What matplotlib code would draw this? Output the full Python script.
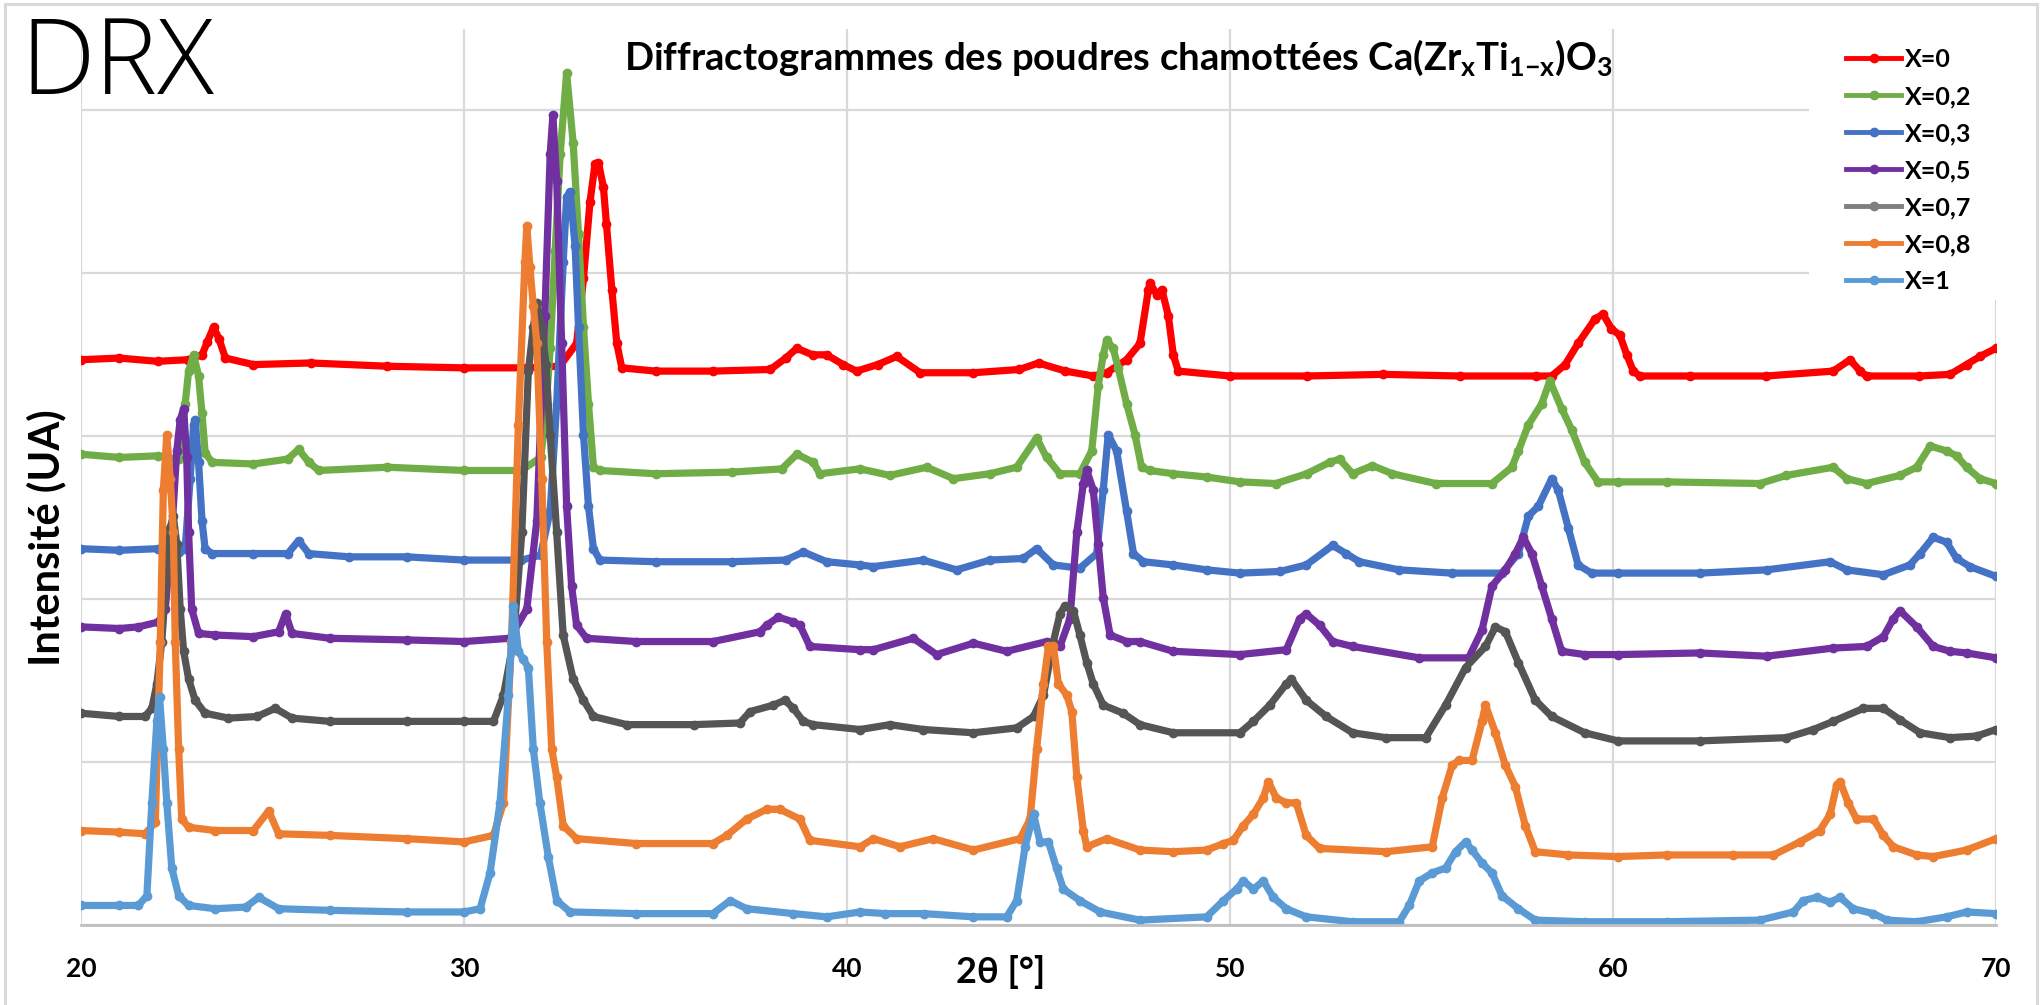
import matplotlib
matplotlib.use("Agg")
import matplotlib.pyplot as plt
from matplotlib.patches import Rectangle
from matplotlib.lines import Line2D

plt.rcParams['font.family'] = ['Lato', 'DejaVu Sans']
plt.rcParams['mathtext.fontset'] = 'custom'
plt.rcParams['mathtext.rm'] = 'Lato:bold'
plt.rcParams['mathtext.it'] = 'Lato:bold'
plt.rcParams['mathtext.bf'] = 'Lato:bold'

# ---------------- data (2theta in degrees, intensity in gridline units, offset as in the figure) -------------
labels = ["X=0", "X=0,2", "X=0,3", "X=0,5", "X=0,7", "X=0,8", "X=1"]
colors = ["#FF0000", "#70AD47", "#4472C4", "#7030A0", "#555555", "#ED7D31", "#5B9BD5"]
legend_colors = ["#FF0000", "#70AD47", "#4472C4", "#7030A0", "#7F7F7F", "#ED7D31", "#5B9BD5"]

x0 = [20.0, 21.0, 22.0, 22.8, 23.16, 23.3, 23.46, 23.6, 23.77, 24.5, 26.0, 28.0, 30.0, 31.5, 32.5, 32.94,
      33.12, 33.29, 33.42, 33.51, 33.64, 33.72, 33.86, 33.99, 34.12, 35.0, 36.5, 38.0, 38.4, 38.69, 39.1,
      39.47, 39.9, 40.25, 40.8, 41.3, 41.91, 43.3, 44.5, 45.0, 45.7, 46.43, 46.78, 47.3, 47.65, 47.87, 47.91,
      48.09, 48.22, 48.39, 48.52, 48.65, 50.0, 52.0, 54.0, 56.0, 58.0, 58.4, 58.75, 59.09, 59.53, 59.74,
      59.96, 60.18, 60.36, 60.53, 60.7, 62.0, 64.0, 65.75, 66.19, 66.45, 66.62, 68.0, 68.8, 69.23, 69.58, 70.0]
y0 = [3.47, 3.48, 3.46, 3.47, 3.50, 3.58, 3.67, 3.60, 3.48, 3.44, 3.45, 3.43, 3.42, 3.42, 3.43, 3.57,
      3.97, 4.44, 4.67, 4.68, 4.53, 4.30, 3.90, 3.57, 3.42, 3.40, 3.40, 3.41, 3.48, 3.54, 3.50,
      3.50, 3.44, 3.40, 3.44, 3.49, 3.39, 3.39, 3.41, 3.45, 3.40, 3.37, 3.39, 3.47, 3.57, 3.90, 3.94,
      3.87, 3.90, 3.74, 3.50, 3.40, 3.37, 3.37, 3.38, 3.37, 3.37, 3.37, 3.44, 3.57, 3.72, 3.75,
      3.66, 3.62, 3.50, 3.40, 3.37, 3.37, 3.37, 3.40, 3.47, 3.40, 3.37, 3.37, 3.38, 3.44, 3.49, 3.54]

x02 = [20.0, 21.0, 22.0, 22.55, 22.72, 22.81, 22.94, 23.07, 23.16, 23.24, 23.42, 24.5, 25.4, 25.68, 25.95,
       26.21, 28.0, 30.0, 31.5, 32.0, 32.11, 32.25, 32.38, 32.51, 32.68, 32.85, 32.99, 33.12, 33.25, 33.38,
       33.55, 35.0, 37.0, 38.3, 38.69, 39.12, 39.29, 40.34, 41.12, 42.08, 42.78, 43.73, 44.43, 44.95, 45.21,
       45.56, 46.08, 46.39, 46.56, 46.69, 46.78, 46.95, 47.08, 47.30, 47.52, 47.69, 47.91, 48.52, 49.39,
       50.26, 51.2, 52.0, 52.6, 52.86, 53.2, 53.72, 54.24, 55.37, 56.84, 57.36, 57.53, 57.79, 58.14, 58.35,
       58.66, 58.92, 59.26, 59.61, 60.13, 61.4, 63.84, 64.53, 65.75, 66.10, 66.62, 67.49, 67.93, 68.28,
       68.71, 68.97, 69.23, 69.58, 70.0]
y02 = [2.89, 2.87, 2.88, 2.86, 3.20, 3.40, 3.50, 3.37, 3.14, 2.90, 2.84, 2.83, 2.86, 2.92, 2.84,
       2.79, 2.81, 2.79, 2.79, 2.87, 3.07, 3.54, 4.14, 4.73, 5.23, 4.80, 4.24, 3.67, 3.20, 2.81,
       2.79, 2.77, 2.78, 2.80, 2.89, 2.84, 2.77, 2.80, 2.76, 2.81, 2.74, 2.77, 2.81, 2.99, 2.87,
       2.77, 2.77, 2.91, 3.31, 3.50, 3.59, 3.54, 3.42, 3.20, 3.01, 2.81, 2.79, 2.77, 2.75,
       2.72, 2.71, 2.77, 2.84, 2.86, 2.77, 2.82, 2.77, 2.71, 2.71, 2.81, 2.91, 3.07, 3.20, 3.34,
       3.17, 3.04, 2.84, 2.72, 2.72, 2.72, 2.71, 2.76, 2.81, 2.74, 2.71, 2.76, 2.81, 2.94,
       2.91, 2.88, 2.81, 2.74, 2.71]

x03 = [20.0, 21.0, 22.0, 22.55, 22.72, 22.85, 22.94, 22.98, 23.07, 23.16, 23.24, 23.42, 24.5, 25.4, 25.68,
       25.95, 27.0, 28.5, 30.0, 31.5, 32.0, 32.25, 32.42, 32.59, 32.68, 32.77, 32.90, 32.99, 33.12, 33.25,
       33.38, 33.55, 35.0, 37.0, 38.4, 38.86, 39.47, 40.34, 40.69, 41.99, 42.86, 43.73, 44.60, 44.95, 45.39,
       46.08, 46.52, 46.69, 46.82, 47.04, 47.30, 47.48, 47.74, 48.52, 49.39, 50.26, 51.3, 51.99, 52.68,
       53.03, 53.38, 54.42, 55.8, 57.10, 57.53, 57.79, 58.05, 58.40, 58.57, 58.83, 59.09, 59.44, 60.13,
       62.27, 64.01, 65.67, 66.10, 67.06, 67.75, 68.02, 68.36, 68.71, 68.97, 69.32, 70.0]
y03 = [2.31, 2.30, 2.31, 2.29, 2.31, 2.74, 3.07, 3.10, 2.84, 2.48, 2.31, 2.28, 2.28, 2.28, 2.36,
       2.28, 2.26, 2.26, 2.24, 2.24, 2.27, 2.54, 3.20, 4.07, 4.47, 4.50, 4.17, 3.67, 3.01, 2.57,
       2.31, 2.24, 2.23, 2.23, 2.24, 2.29, 2.23, 2.21, 2.20, 2.24, 2.18, 2.24, 2.25, 2.31, 2.21,
       2.19, 2.28, 2.67, 3.01, 2.91, 2.54, 2.28, 2.23, 2.21, 2.18, 2.16, 2.17, 2.21, 2.33,
       2.28, 2.23, 2.18, 2.16, 2.16, 2.28, 2.51, 2.57, 2.74, 2.67, 2.44, 2.21, 2.16, 2.16,
       2.16, 2.18, 2.23, 2.18, 2.15, 2.21, 2.28, 2.38, 2.35, 2.25, 2.20, 2.14]

x05 = [20.0, 21.0, 21.5, 22.02, 22.20, 22.37, 22.50, 22.59, 22.68, 22.76, 22.81, 22.89, 23.07, 23.5, 24.5,
       25.16, 25.34, 25.51, 26.5, 28.5, 30.0, 31.2, 31.64, 31.90, 32.11, 32.25, 32.32, 32.42, 32.55, 32.68,
       32.81, 32.94, 33.20, 34.5, 36.5, 37.73, 37.9, 38.21, 38.60, 38.77, 39.03, 40.34, 40.69, 41.73, 42.34,
       43.30, 44.17, 45.21, 45.56, 45.82, 46.00, 46.17, 46.26, 46.43, 46.56, 46.69, 46.87, 47.30, 47.65,
       48.52, 50.26, 51.47, 51.82, 51.99, 52.34, 52.68, 53.20, 54.94, 56.23, 56.58, 56.84, 57.19, 57.45,
       57.66, 57.88, 58.14, 58.40, 58.66, 59.26, 60.13, 62.27, 64.01, 65.75, 66.62, 67.06, 67.32, 67.49,
       67.93, 68.36, 68.80, 69.23, 70.0]
y05 = [1.83, 1.82, 1.83, 1.86, 1.94, 2.41, 2.91, 3.10, 3.17, 2.87, 2.41, 1.94, 1.79, 1.78, 1.77,
       1.80, 1.91, 1.79, 1.76, 1.75, 1.74, 1.76, 1.94, 2.48, 3.74, 4.73, 4.97, 4.57, 3.57, 2.57,
       2.08, 1.84, 1.76, 1.74, 1.74, 1.80, 1.84, 1.89, 1.86, 1.84, 1.71, 1.69, 1.69, 1.76, 1.66,
       1.73, 1.68, 1.74, 1.71, 1.88, 2.41, 2.71, 2.79, 2.67, 2.34, 2.01, 1.78, 1.74, 1.74,
       1.68, 1.66, 1.69, 1.88, 1.91, 1.84, 1.74, 1.71, 1.64, 1.64, 1.81, 2.08, 2.18, 2.28,
       2.38, 2.28, 2.08, 1.88, 1.68, 1.66, 1.66, 1.67, 1.65, 1.70, 1.71, 1.77, 1.88, 1.93,
       1.83, 1.71, 1.68, 1.67, 1.64]

x07 = [20.0, 21.0, 21.67, 21.85, 21.98, 22.11, 22.24, 22.33, 22.41, 22.50, 22.59, 22.68, 22.81, 22.98, 23.24,
       23.85, 24.6, 25.07, 25.51, 26.5, 28.5, 30.0, 30.77, 31.03, 31.29, 31.51, 31.68, 31.81, 31.90, 32.03,
       32.14, 32.25, 32.42, 32.59, 32.85, 33.12, 33.38, 34.25, 36.0, 37.2, 37.47, 38.08, 38.38, 38.60, 38.86,
       39.12, 40.34, 41.12, 41.99, 43.30, 44.43, 44.87, 45.13, 45.39, 45.56, 45.69, 45.91, 46.08, 46.26,
       46.43, 46.69, 47.21, 47.65, 48.52, 50.26, 50.61, 51.04, 51.47, 51.60, 51.99, 52.51, 53.20, 54.07,
       55.11, 55.63, 56.15, 56.67, 56.93, 57.19, 57.53, 57.97, 58.40, 59.26, 60.13, 62.27, 64.53, 65.23,
       65.75, 66.54, 67.06, 67.49, 68.02, 68.80, 69.50, 70.0]
y07 = [1.30, 1.28, 1.28, 1.33, 1.48, 1.74, 2.18, 2.44, 2.51, 2.34, 1.94, 1.68, 1.51, 1.38, 1.30,
       1.27, 1.28, 1.33, 1.27, 1.25, 1.25, 1.25, 1.25, 1.41, 1.74, 2.41, 3.40, 3.67, 3.82, 3.67,
       3.44, 3.01, 2.41, 1.78, 1.51, 1.38, 1.28, 1.23, 1.23, 1.24, 1.31, 1.35, 1.38, 1.33, 1.25,
       1.23, 1.20, 1.23, 1.20, 1.18, 1.21, 1.28, 1.41, 1.74, 1.91, 1.96, 1.93, 1.78, 1.61,
       1.48, 1.35, 1.30, 1.23, 1.18, 1.18, 1.25, 1.35, 1.48, 1.51, 1.38, 1.28, 1.18, 1.15,
       1.15, 1.35, 1.58, 1.71, 1.83, 1.80, 1.61, 1.38, 1.28, 1.18, 1.13, 1.13, 1.15, 1.20,
       1.25, 1.33, 1.33, 1.26, 1.18, 1.15, 1.16, 1.20]

x08 = [20.0, 21.0, 21.67, 21.94, 22.07, 22.15, 22.24, 22.33, 22.41, 22.46, 22.55, 22.63, 22.81, 23.5, 24.5,
       24.9, 25.16, 26.5, 28.5, 30.0, 30.77, 31.03, 31.24, 31.42, 31.59, 31.64, 31.72, 31.81, 31.90, 32.03,
       32.16, 32.29, 32.42, 32.59, 32.94, 34.5, 36.5, 36.86, 37.38, 37.9, 38.25, 38.77, 39.03, 40.34, 40.69,
       41.38, 42.25, 43.30, 44.52, 44.78, 44.95, 45.13, 45.26, 45.39, 45.52, 45.74, 45.87, 46.00, 46.17,
       46.26, 46.78, 47.65, 48.52, 49.39, 49.83, 50.09, 50.35, 50.61, 50.87, 51.0, 51.21, 51.47, 51.73,
       51.99, 52.34, 54.07, 55.28, 55.54, 55.80, 55.97, 56.32, 56.58, 56.67, 56.93, 57.19, 57.45, 57.71,
       57.97, 58.83, 60.13, 61.4, 63.14, 64.19, 64.88, 65.40, 65.67, 65.84, 65.93, 66.14, 66.36, 66.80,
       67.06, 67.32, 67.93, 68.36, 69.23, 70.0]
y08 = [0.58, 0.57, 0.56, 0.63, 1.74, 2.67, 3.01, 2.74, 2.41, 1.74, 1.08, 0.65, 0.60, 0.58, 0.58,
       0.70, 0.56, 0.55, 0.53, 0.51, 0.55, 0.75, 1.74, 3.07, 4.07, 4.29, 4.04, 3.80, 3.57, 2.74,
       1.74, 1.08, 0.91, 0.61, 0.53, 0.50, 0.50, 0.55, 0.65, 0.71, 0.71, 0.65, 0.52, 0.48, 0.53,
       0.48, 0.53, 0.46, 0.53, 0.65, 1.08, 1.48, 1.71, 1.71, 1.48, 1.41, 1.31, 0.91, 0.58,
       0.48, 0.53, 0.46, 0.45, 0.46, 0.50, 0.52, 0.61, 0.68, 0.78, 0.88, 0.78, 0.75, 0.75,
       0.55, 0.47, 0.45, 0.48, 0.78, 0.98, 1.01, 1.01, 1.25, 1.35, 1.18, 0.98, 0.85, 0.61,
       0.45, 0.43, 0.42, 0.43, 0.43, 0.43, 0.51, 0.58, 0.68, 0.86, 0.88, 0.75, 0.65, 0.65,
       0.55, 0.48, 0.43, 0.42, 0.46, 0.53]

x1 = [20.0, 21.0, 21.50, 21.72, 21.85, 21.98, 22.05, 22.15, 22.24, 22.37, 22.55, 22.81, 23.5, 24.3, 24.64,
      25.16, 26.5, 28.5, 30.0, 30.42, 30.68, 30.94, 31.16, 31.29, 31.42, 31.55, 31.68, 31.81, 31.98, 32.20,
      32.42, 32.77, 34.5, 36.5, 36.95, 37.38, 38.60, 39.47, 40.34, 41.0, 42.0, 43.30, 44.17, 44.43, 44.65,
      44.87, 45.04, 45.26, 45.47, 45.65, 46.08, 46.61, 47.65, 49.39, 49.83, 50.17, 50.35, 50.61, 50.87,
      51.13, 51.47, 51.99, 53.20, 54.42, 54.68, 54.94, 55.28, 55.63, 55.89, 56.15, 56.32, 56.58, 56.84,
      57.10, 57.53, 57.97, 59.26, 61.4, 63.84, 64.71, 64.97, 65.32, 65.67, 65.93, 66.27, 66.80, 67.15,
      67.93, 68.71, 69.23, 70.0]
y1 = [0.12, 0.12, 0.12, 0.18, 0.75, 1.25, 1.40, 1.08, 0.75, 0.35, 0.18, 0.12, 0.10, 0.11, 0.17,
      0.10, 0.09, 0.08, 0.08, 0.10, 0.32, 0.75, 1.41, 1.96, 1.68, 1.63, 1.58, 1.08, 0.75, 0.42,
      0.15, 0.08, 0.07, 0.07, 0.15, 0.10, 0.07, 0.05, 0.08, 0.07, 0.07, 0.05, 0.05, 0.15, 0.48,
      0.68, 0.51, 0.51, 0.35, 0.22, 0.15, 0.08, 0.03, 0.05, 0.15, 0.22, 0.27, 0.22, 0.27,
      0.17, 0.10, 0.05, 0.02, 0.02, 0.12, 0.27, 0.32, 0.35, 0.45, 0.51, 0.46, 0.38, 0.32,
      0.18, 0.10, 0.03, 0.02, 0.02, 0.03, 0.08, 0.15, 0.17, 0.14, 0.17, 0.10, 0.07, 0.03,
      0.02, 0.05, 0.08, 0.07]

series_x = [x0, x02, x03, x05, x07, x08, x1]
series_y = [y0, y02, y03, y05, y07, y08, y1]

xticks = [20, 30, 40, 50, 60, 70]
yticks = [0, 1, 2, 3, 4, 5]

# ---------------- figure ----------------
W, H = 2042, 1005
fig = plt.figure(figsize=(W / 100, H / 100), dpi=100)
fig.patch.set_facecolor("white")

ax = fig.add_axes([81 / W, 80 / H, (1996 - 81) / W, (976 - 80) / H])
ax.set_xlim(20, 70)
ax.set_ylim(0, 5.5)
ax.set_xticks(xticks)
ax.set_yticks(yticks)
ax.set_yticklabels([])
ax.grid(True, color="#D9D9D9", lw=1.6)
ax.set_axisbelow(True)
for side, sp in ax.spines.items():
    sp.set_visible(side == "bottom")
ax.spines["bottom"].set_color("#BFBFBF")
ax.spines["bottom"].set_linewidth(2)
ax.tick_params(length=0, labelsize=19, pad=23)
for t in ax.get_xticklabels():
    t.set_fontweight("bold")

for xs, ys, c, lab in zip(series_x, series_y, colors, labels):
    ax.plot(xs, ys, color=c, lw=5.2, marker="o", ms=6, mec=c, mfc=c,
            solid_joinstyle="round", solid_capstyle="round", label=lab)

# white background of the legend area
fig.add_artist(Rectangle((1809 / W, 1 - 300 / H), (2010 - 1809) / W, (300 - 20) / H,
                         transform=fig.transFigure, facecolor="white", edgecolor="none", zorder=1))
handles = [Line2D([0], [0], color=c, lw=3.5, marker="o", ms=6) for c in legend_colors]
leg = fig.legend(handles, labels, loc="upper left", bbox_to_anchor=(1846 / W, 1 - 48 / H),
                 frameon=False, prop={"family": ["Lato", "DejaVu Sans"], "weight": "bold", "size": 18},
                 handlelength=2.2, handletextpad=0.15, labelspacing=0.56, borderpad=0,
                 borderaxespad=0, numpoints=1)
leg.set_zorder(3)

# outer frame
fig.add_artist(Rectangle((5 / W, -0.02), (2037 - 5) / W, 1.02 - 4 / H, transform=fig.transFigure,
                         facecolor="none", edgecolor="#D9D9D9", lw=2.2, zorder=4))

fig.text(1118 / W, 1 - 58 / H,
         r"Diffractogrammes des poudres chamottées Ca(Zr$_\mathrm{x}$Ti$_\mathrm{1{-}x}$)O$_\mathrm{3}$",
         ha="center", va="center", fontsize=27.5, fontweight="bold")
fig.text(20 / W, 1 - 94 / H, "DRX", ha="left", va="baseline", fontsize=76,
         family=["Open Sans", "Lato", "DejaVu Sans"], fontweight="light")
fig.text(46 / W, 1 - 538 / H, "Intensité (UA)", rotation=90, ha="center", va="center",
         fontsize=30, fontweight="bold")
fig.text(1001 / W, 1 - 972 / H, "2θ [°]", ha="center", va="center", fontsize=26, fontweight="bold")

fig.savefig("out.png", dpi=100, facecolor="white")
